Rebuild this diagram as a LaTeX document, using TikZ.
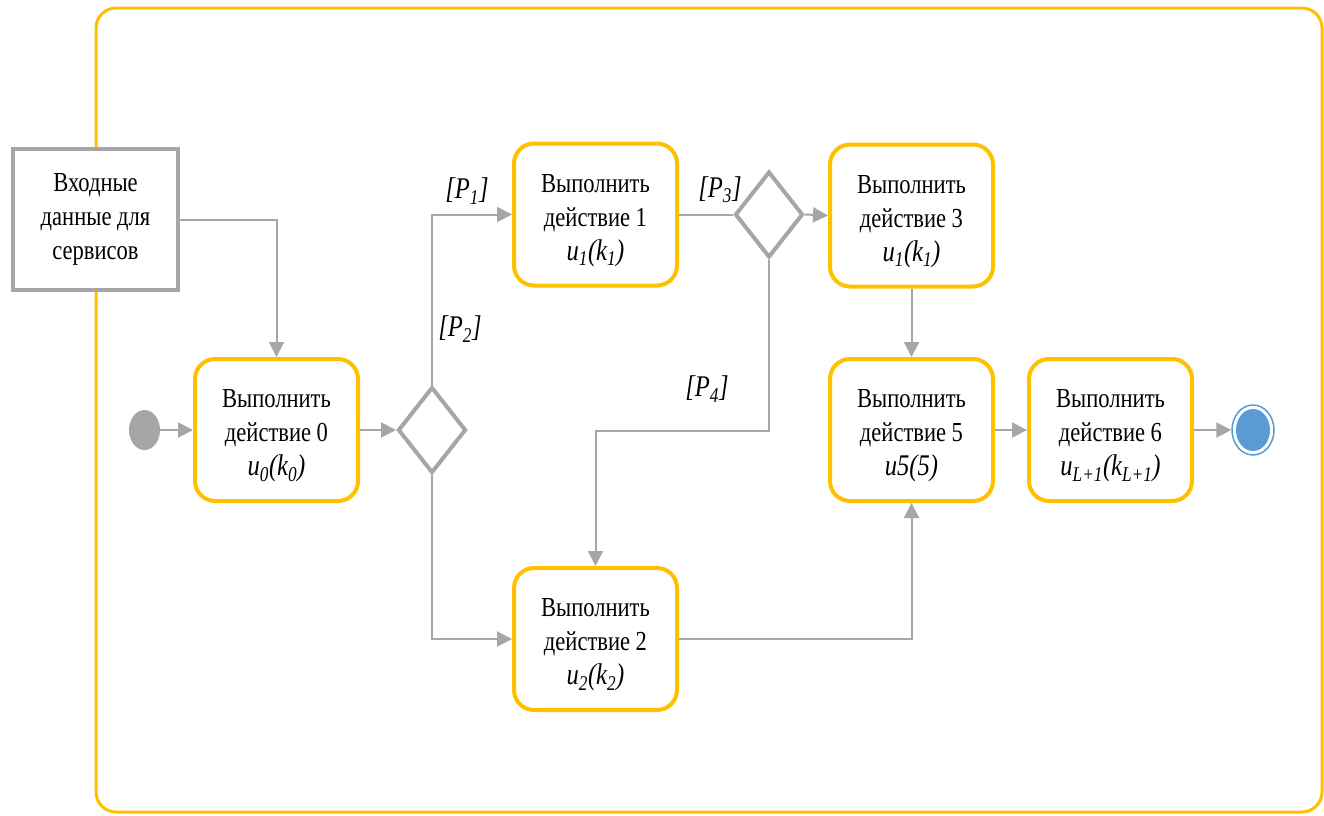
\documentclass[tikz,border=0pt]{standalone}
\usepackage{fontspec}
\setmainfont{Liberation Serif}[FakeStretch=0.82]
\usetikzlibrary{shapes.geometric,arrows.meta}
\definecolor{yel}{HTML}{FFC000}
\definecolor{gr}{HTML}{A6A6A6}
\definecolor{bl}{HTML}{5B9BD5}
\newcommand{\mline}{\fontsize{30}{34}\selectfont\itshape}
\begin{document}
\begin{tikzpicture}[x=1pt,y=-1pt,
  txt/.style={font=\fontsize{27.5}{34}\selectfont, align=center},
  act/.style={txt, draw=yel, line width=4pt, rounded corners=20pt, fill=white,
    minimum width=163pt, minimum height=142pt, inner sep=0pt},
  inbox/.style={txt, draw=gr, line width=4.5pt, fill=white,
    minimum width=165pt, minimum height=141pt, inner sep=0pt},
  dec/.style={diamond, draw=gr, line width=4pt, fill=white,
    minimum width=68pt, minimum height=86pt, inner sep=0pt},
  conn/.style={draw=gr, line width=2pt, -{Triangle[length=15pt,width=15pt]}},
  plain/.style={draw=gr, line width=2pt},
  lab/.style={font=\fontsize{30}{34}\selectfont\itshape, inner sep=0pt}]
\useasboundingbox (0,0) rectangle (1324,815);
% frame
\draw[yel, line width=3pt, rounded corners=20pt] (96,8) rectangle (1322,812);
% nodes
\node[inbox] (in) at (95.5,219.5) {Входные\\данные для\\сервисов};
\node[act] (a0) at (276.5,430) {\\[-4pt]Выполнить\\действие 0\\\mline u\textsubscript{0}(k\textsubscript{0})};
\node[act] (a1) at (595.5,214.5) {\\[-4pt]Выполнить\\действие 1\\\mline u\textsubscript{1}(k\textsubscript{1})};
\node[act] (a3) at (911.5,215.5) {\\[-4pt]Выполнить\\действие 3\\\mline u\textsubscript{1}(k\textsubscript{1})};
\node[act] (a5) at (911.5,430) {\\[-4pt]Выполнить\\действие 5\\\mline u5(5)};
\node[act] (a6) at (1110.5,430) {\\[-4pt]Выполнить\\действие 6\\\mline u\textsubscript{L+1}(k\textsubscript{L+1})};
\node[act] (a2) at (595.5,639) {\\[-4pt]Выполнить\\действие 2\\\mline u\textsubscript{2}(k\textsubscript{2})};
\node[dec] (d1) at (432,430) {};
\node[dec] (d2) at (769,214.5) {};
\node[ellipse, fill=gr, minimum width=31pt, minimum height=40pt, inner sep=0pt] (start) at (144.5,430) {};
\node[ellipse, draw=bl, line width=1.5pt, fill=white, minimum width=42pt, minimum height=50pt, inner sep=0pt] (end) at (1253,430) {};
\node[ellipse, fill=bl, minimum width=34pt, minimum height=42pt, inner sep=0pt] (endin) at (end.center) {};
\coordinate (p4) at (769,431);
% connectors
\draw[conn] (in.east) -| (a0.north);
\draw[conn] (start.east) -- (a0.west);
\draw[conn] (a0.east) -- (d1.west);
\draw[conn] (d1.north) |- (a1.west);
\draw[conn] (d1.south) |- (a2.west);
\draw[plain] (a1.east) -- (d2.west);
\draw[conn] (d2.east) -- (a3.west);
\draw[conn] (d2.south) -- (p4) -| (a2.north);
\draw[conn] (a3.south) -- (a5.north);
\draw[conn] (a2.east) -| (a5.south);
\draw[conn] (a5.east) -- (a6.west);
\draw[conn] (a6.east) -- (end.west);
% labels
\node[lab] (l1) at (467,191) {[P\textsubscript{1}]};
\node[lab] (l2) at (460,329) {[P\textsubscript{2}]};
\node[lab] (l3) at (720,190) {[P\textsubscript{3}]};
\node[lab] (l4) at (707,389) {[P\textsubscript{4}]};
\end{tikzpicture}
\end{document}
